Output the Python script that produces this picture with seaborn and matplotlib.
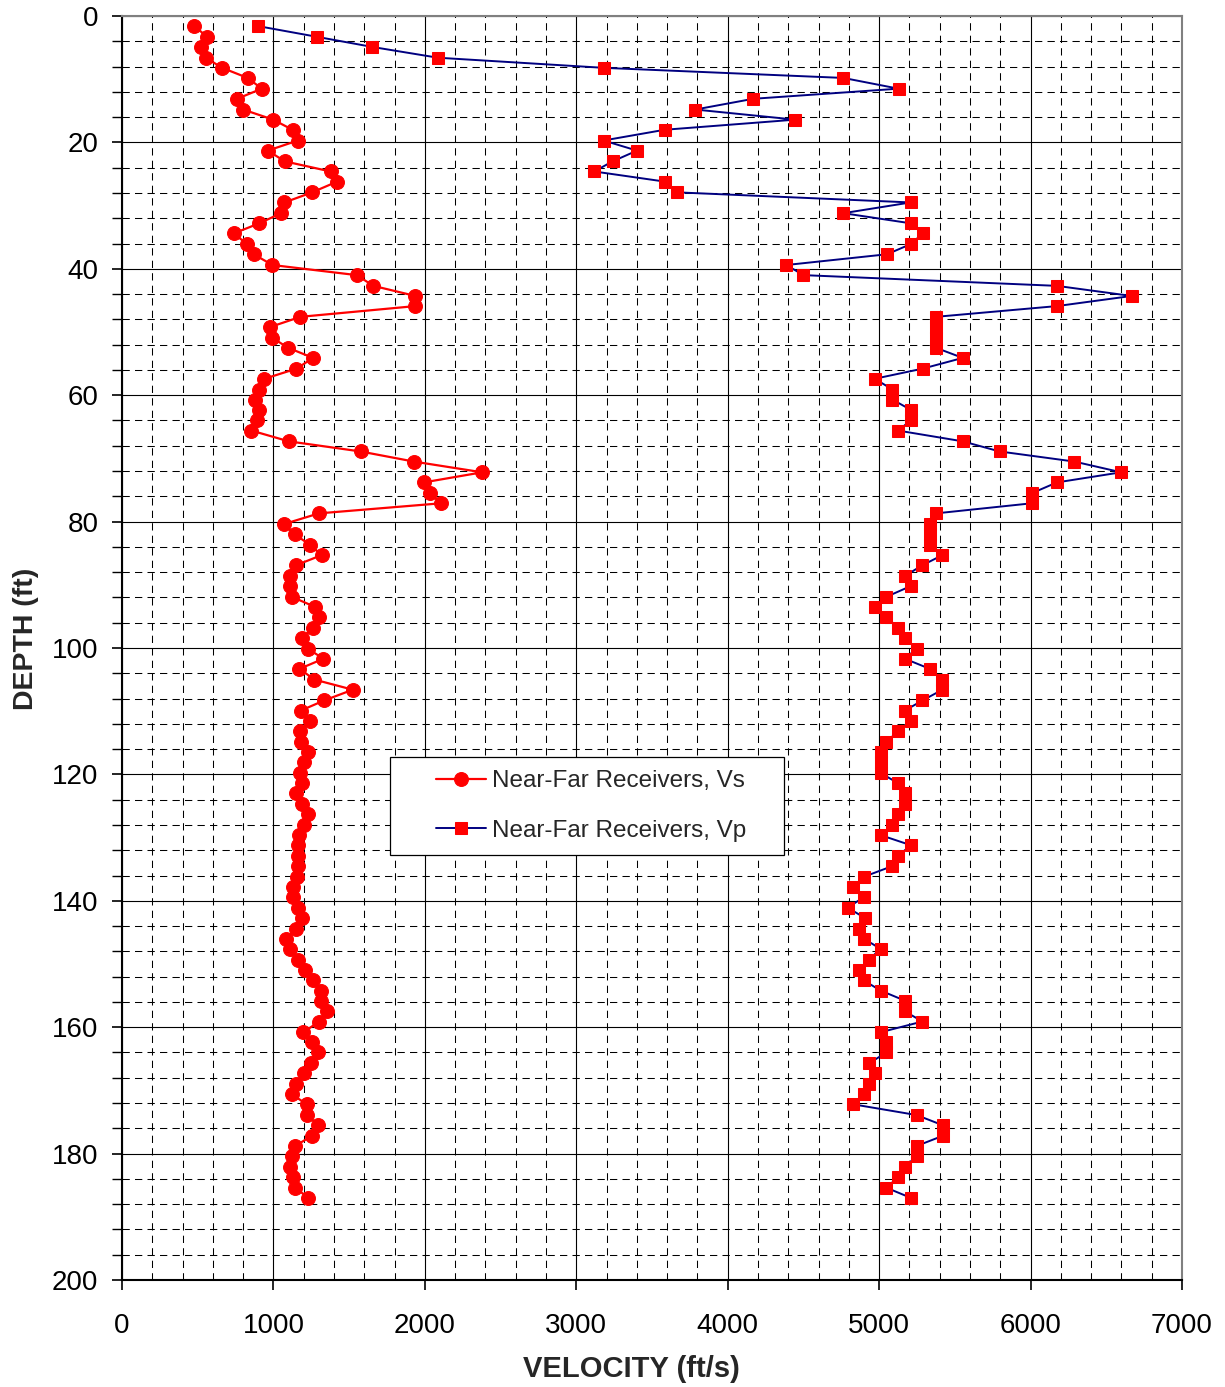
import matplotlib
matplotlib.use('Agg')
import matplotlib.pyplot as plt
import seaborn as sns
from matplotlib.ticker import MultipleLocator
from matplotlib.legend_handler import HandlerLine2D
from matplotlib.lines import Line2D

# Depth of each receiver level (ft), 0.5 m spacing
depth = [1.6, 3.3, 4.9, 6.6, 8.2, 9.8, 11.5, 13.1, 14.8, 16.4,
         18.0, 19.7, 21.3, 23.0, 24.6, 26.2, 27.9, 29.5, 31.2, 32.8,
         34.4, 36.1, 37.7, 39.4, 41.0, 42.7, 44.3, 45.9, 47.6, 49.2,
         50.9, 52.5, 54.1, 55.8, 57.4, 59.1, 60.7, 62.3, 64.0, 65.6,
         67.3, 68.9, 70.5, 72.2, 73.8, 75.5, 77.1, 78.7, 80.4, 82.0,
         83.7, 85.3, 86.9, 88.6, 90.2, 91.9, 93.5, 95.1, 96.8, 98.4,
         100.1, 101.7, 103.3, 105.0, 106.6, 108.3, 109.9, 111.5, 113.2, 114.8,
         116.5, 118.1, 119.8, 121.4, 123.0, 124.7, 126.3, 128.0, 129.6, 131.2,
         132.9, 134.5, 136.2, 137.8, 139.4, 141.1, 142.7, 144.4, 146.0, 147.6,
         149.3, 150.9, 152.6, 154.2, 155.8, 157.5, 159.1, 160.8, 162.4, 164.0,
         165.7, 167.3, 169.0, 170.6, 172.2, 173.9, 175.5, 177.2, 178.8, 180.4,
         182.1, 183.7, 185.4, 187.0]

# Shear wave velocity (ft/s)
vs = [478, 562, 522, 553, 661, 830, 923, 760, 800, 998,
      1126, 1161, 963, 1075, 1377, 1421, 1256, 1073, 1051, 907,
      738, 826, 870, 993, 1550, 1660, 1938, 1938, 1178, 980,
      991, 1097, 1262, 1152, 941, 903, 881, 907, 892, 855,
      1101, 1575, 1927, 2379, 1993, 2033, 2108, 1300, 1068, 1140,
      1242, 1319, 1150, 1110, 1110, 1121, 1275, 1304, 1264, 1187,
      1227, 1330, 1172, 1271, 1524, 1335, 1181, 1242, 1176, 1181,
      1225, 1203, 1176, 1187, 1148, 1187, 1231, 1203, 1172, 1161,
      1161, 1165, 1154, 1126, 1126, 1161, 1187, 1150, 1081, 1110,
      1165, 1209, 1264, 1313, 1315, 1352, 1302, 1198, 1255, 1297,
      1247, 1203, 1148, 1121, 1220, 1220, 1297, 1253, 1143, 1121,
      1110, 1132, 1143, 1231]

# Compression wave velocity (ft/s)
vp = [899, 1289, 1654, 2086, 3180, 4764, 5128, 4169, 3786, 4446,
      3584, 3180, 3401, 3240, 3118, 3584, 3662, 5208, 4764, 5208,
      5289, 5208, 5052, 4387, 4500, 6174, 6667, 6174, 5375, 5375,
      5375, 5375, 5552, 5287, 4971, 5088, 5088, 5208, 5208, 5126,
      5552, 5795, 6289, 6598, 6174, 6009, 6009, 5375, 5335, 5335,
      5335, 5418, 5286, 5170, 5209, 5048, 4971, 5048, 5126, 5170,
      5247, 5170, 5335, 5418, 5418, 5286, 5170, 5209, 5126, 5048,
      5011, 5011, 5011, 5126, 5170, 5170, 5126, 5088, 5009, 5209,
      5126, 5088, 4899, 4828, 4899, 4793, 4905, 4866, 4899, 5009,
      4934, 4866, 4899, 5009, 5170, 5170, 5286, 5009, 5048, 5048,
      4934, 4971, 4934, 4899, 4828, 5247, 5419, 5419, 5247, 5247,
      5170, 5126, 5048, 5209]

sns.set_theme(style="white")
plt.rcParams['font.family'] = ['Liberation Sans', 'DejaVu Sans']

fig = plt.figure(figsize=(12.25, 13.87), dpi=100)
ax = fig.add_axes([122 / 1225, 1 - 1280 / 1387, 1060 / 1225, 1264 / 1387])

sns.lineplot(x=vs, y=depth, sort=False, estimator=None, ax=ax,
             color='#ff0000', linewidth=1.6, marker='o', markersize=10,
             markeredgecolor='#ff0000', markerfacecolor='#ff0000',
             label='Near-Far Receivers, Vs', zorder=4)
sns.lineplot(x=vp, y=depth, sort=False, estimator=None, ax=ax,
             color='#000080', linewidth=1.4, marker='s', markersize=8,
             markeredgecolor='#ff0000', markerfacecolor='#ff0000',
             label='Near-Far Receivers, Vp', zorder=4)

ax.set_xlim(0, 7000)
ax.set_ylim(200, 0)
ax.xaxis.set_major_locator(MultipleLocator(1000))
ax.xaxis.set_minor_locator(MultipleLocator(200))
ax.yaxis.set_major_locator(MultipleLocator(20))
ax.yaxis.set_minor_locator(MultipleLocator(4))

ax.grid(which='major', color='black', linewidth=0.8, linestyle='-')
ax.grid(which='minor', color='black', linewidth=0.75, linestyle=(0, (7, 5)))
ax.set_axisbelow(True)

for side in ['top', 'right']:
    ax.spines[side].set_color('#808080')
    ax.spines[side].set_linewidth(1.5)
for side in ['left', 'bottom']:
    ax.spines[side].set_color('black')
    ax.spines[side].set_linewidth(1.5)

ax.tick_params(axis='both', which='major', direction='out', length=7,
               width=1.2, color='black', labelsize=20, labelcolor='black')
ax.tick_params(axis='x', which='major', pad=17, bottom=True)
ax.tick_params(axis='y', which='major', pad=10, left=True)
ax.tick_params(axis='y', which='minor', direction='out', length=7,
               width=1.0, color='black', left=True)
ax.tick_params(axis='x', which='minor', bottom=False)

ax.set_xlabel('VELOCITY (ft/s)', fontsize=21, fontweight='bold', labelpad=11)
ax.set_ylabel('DEPTH (ft)', fontsize=20.5, fontweight='bold', labelpad=9)
ax.xaxis.label.set_x(0.481)
ax.yaxis.label.set_y(0.507)

# legend box spans 390..784 px across, top at 757 px
handles, labels = ax.get_legend_handles_labels()
lh = 0.0775
leg = ax.legend(handles, labels, loc='upper left',
                bbox_to_anchor=(0.2528, 0.4138 - lh, 0.3717, lh), mode='expand',
                fontsize=17.5, frameon=True, fancybox=False, shadow=False,
                framealpha=1, edgecolor='black', handlelength=3.4,
                handletextpad=0.25, borderpad=0.55, labelspacing=1.13,
                borderaxespad=0,
                handler_map={Line2D: HandlerLine2D(xpad=1.35)})
leg.get_frame().set_linewidth(0.9)

fig.savefig('out.png', dpi=100)
